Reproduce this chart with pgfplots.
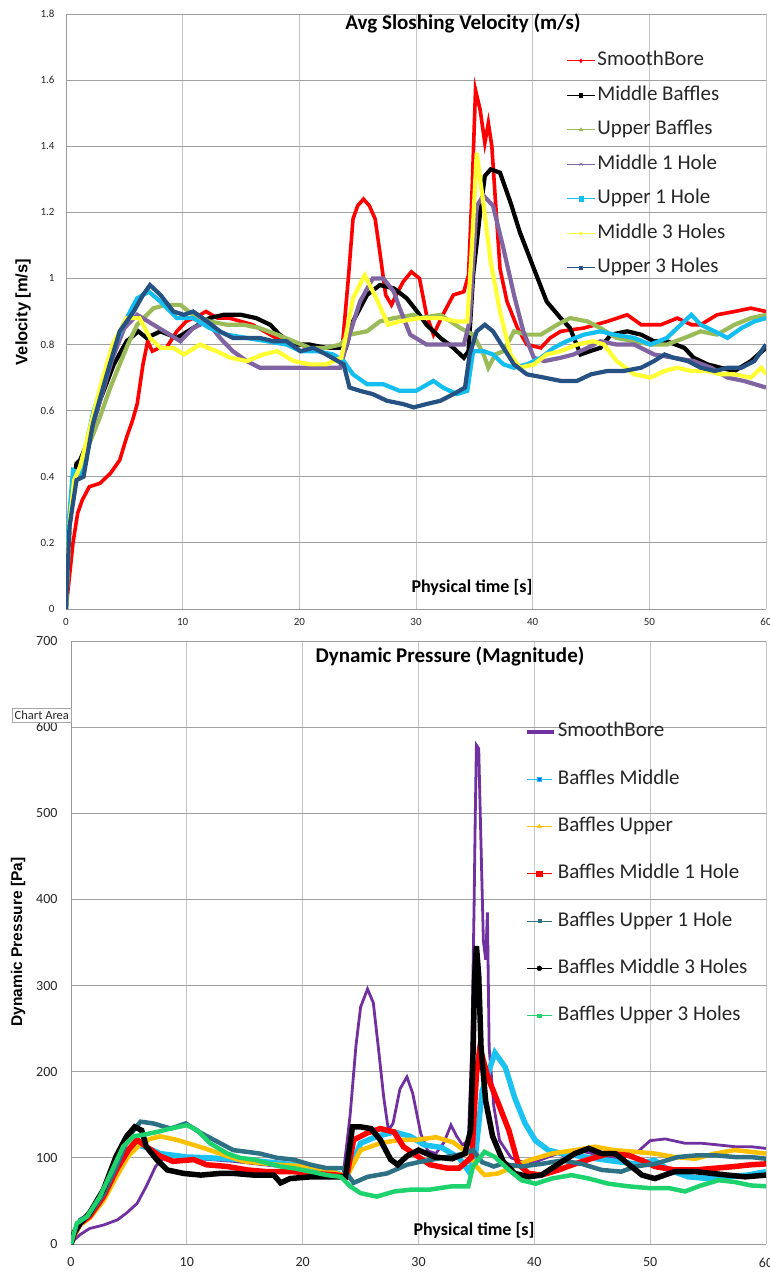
\documentclass[border=0pt]{standalone}
\usepackage{fontspec}
\setmainfont{Carlito}
\newfontfamily\lsans{Liberation Sans}
\usepackage{pgfplots}
\pgfplotsset{compat=1.18}

\definecolor{cRed}{HTML}{FF0000}
\definecolor{cGreen}{HTML}{9BBB59}
\definecolor{cPurple}{HTML}{8064A2}
\definecolor{cCyan}{HTML}{14BEF0}
\definecolor{cYellow}{HTML}{FFFF33}
\definecolor{cNavy}{HTML}{255282}
\definecolor{pPurple}{HTML}{7030A0}
\definecolor{pCyan}{HTML}{1CC3F2}
\definecolor{pOrange}{HTML}{FFC000}
\definecolor{pTeal}{HTML}{2E7084}
\definecolor{pGreen}{HTML}{1ED36E}
\definecolor{gridc}{HTML}{A0A0A0}
\definecolor{txt}{HTML}{262626}

\pgfplotsset{
  legline/.style={legend image code/.code={%
    \draw[##1, line width=0.9pt] (0pt,0pt) -- (#1,0pt);
    \draw[##1, line width=0.5pt, mark phase=1] plot coordinates {(#1/2,0pt)};}},
  thickleg/.style={legend image code/.code={%
    \draw[##1, line width=4pt] (0pt,0pt) -- (#1,0pt);}},
  chart/.style={
    scale only axis,
    axis lines=left, axis line style={-, draw=gray!80, line width=0.8pt},
    xmin=0, xmax=60, xtick={0,10,...,60},
    grid=major,
    x grid style={gray!45, line width=0.7pt},
    y grid style={gridc, line width=0.9pt},
    major tick length=0pt,
    /pgf/number format/assume math mode=true,
    tick label style={text=txt},
    legend cell align=left,
    mark phase=100000,
  },
}

\begin{document}
\begin{tikzpicture}
\useasboundingbox (0,0) rectangle (769pt,-1273pt);

% ---------------- top chart ----------------
\begin{axis}[chart,
  at={(66pt,-609pt)}, anchor=south west,
  width=700pt, height=595pt,
  ymin=0, ymax=1.8, ytick={0,0.2,...,1.8},
  yticklabel style={font=\fontsize{11}{13}\selectfont, xshift=-8pt},
  xticklabel style={font=\fontsize{11}{13}\selectfont, yshift=-6pt},
  legend style={at={(rel axis cs:0.715,0.9365)}, anchor=north west,
    draw=none, fill=none, inner sep=0pt, outer sep=0pt,
    row sep=16.5pt, column sep=2pt,
    font=\fontsize{21}{25}\selectfont, text=txt,
    nodes={inner sep=0pt, text height=14pt, text depth=4pt}},
]
\addplot[cRed, line width=3.6pt, mark=diamond*, mark size=2pt, legline=28pt] coordinates {
(0,0)(0.3,0.1)(0.6,0.2)(1.0,0.29)(1.4,0.33)(2.0,0.37)(2.9,0.38)(3.8,0.41)(4.6,0.45)(5.2,0.52)(5.7,0.57)(6.1,0.62)(6.6,0.74)(7.0,0.81)(7.4,0.78)(8.0,0.79)(8.6,0.79)(9.5,0.84)(10.3,0.87)(11.5,0.89)(12.0,0.9)(13,0.88)(14,0.88)(15,0.87)(16,0.86)(17,0.84)(18,0.82)(19,0.80)(20,0.80)(21,0.79)(22,0.79)(23,0.79)(23.7,0.80)(24.2,1.0)(24.6,1.18)(25.0,1.22)(25.5,1.24)(26.0,1.22)(26.5,1.18)(26.9,1.08)(27.4,0.95)(27.9,0.92)(28.3,0.95)(28.9,0.99)(29.6,1.02)(30.3,1.00)(30.9,0.89)(31.5,0.83)(32.3,0.89)(33.2,0.95)(34.1,0.96)(34.5,1.01)(34.8,1.26)(35.1,1.57)(35.5,1.51)(35.9,1.41)(36.2,1.47)(36.5,1.40)(36.8,1.24)(37.2,1.03)(37.8,0.93)(38.7,0.85)(39.5,0.80)(40.7,0.79)(41.5,0.82)(42.4,0.84)(44.4,0.85)(46.4,0.87)(48.1,0.89)(49.3,0.86)(51.0,0.86)(52.4,0.88)(53.6,0.86)(54.4,0.86)(55.8,0.89)(57.3,0.90)(58.7,0.91)(60,0.90)};
\addlegendentry{SmoothBore}
\addplot[black, line width=4.2pt, mark=square*, mark size=1.6pt, legline=28pt] coordinates {
(0,0)(0.3,0.25)(0.6,0.38)(0.9,0.44)(1.2,0.45)(1.8,0.5)(2.9,0.63)(4.1,0.74)(5.2,0.81)(6.2,0.84)(6.9,0.82)(8.1,0.84)(9.5,0.82)(10.9,0.85)(12.3,0.88)(13.5,0.89)(15,0.89)(16.3,0.88)(17.5,0.86)(18.3,0.83)(19.5,0.80)(20.9,0.80)(22.3,0.79)(23.6,0.79)(24.0,0.79)(24.6,0.87)(25.8,0.95)(26.9,0.98)(28.1,0.97)(29.2,0.94)(30.1,0.90)(30.9,0.86)(32.1,0.82)(33.2,0.79)(34.1,0.76)(34.5,0.78)(34.9,1.01)(35.5,1.2)(35.9,1.31)(36.4,1.33)(37.2,1.32)(38.1,1.23)(38.9,1.14)(40.1,1.03)(41.2,0.93)(42.4,0.88)(43.2,0.85)(44.1,0.77)(44.9,0.78)(45.8,0.79)(46.7,0.83)(48.1,0.84)(49.3,0.83)(50.4,0.81)(51.5,0.81)(53,0.79)(53.8,0.76)(55,0.74)(56.1,0.73)(57.3,0.72)(58.7,0.75)(60,0.79)};
\addlegendentry{Middle Baffles}
\addplot[cGreen, line width=4.2pt, mark=triangle*, mark size=2pt, legline=28pt] coordinates {
(0,0)(0.3,0.25)(0.7,0.37)(1.2,0.42)(2.0,0.5)(2.9,0.58)(3.8,0.67)(4.6,0.74)(5.3,0.8)(6.1,0.86)(7.5,0.91)(8.6,0.92)(9.8,0.92)(10.9,0.89)(12.3,0.87)(13.8,0.86)(15.2,0.86)(16.6,0.85)(18.1,0.83)(19.5,0.81)(20.9,0.79)(22.3,0.79)(23.5,0.80)(24.3,0.83)(25.8,0.84)(26.9,0.87)(28.1,0.88)(29.8,0.89)(30.3,0.88)(32.1,0.89)(33.8,0.85)(34.9,0.83)(35.8,0.77)(36.2,0.73)(36.8,0.77)(37.5,0.78)(38.4,0.84)(39.5,0.83)(40.7,0.83)(42.1,0.86)(43.2,0.88)(44.7,0.87)(45.8,0.85)(47.2,0.82)(48.7,0.81)(50.1,0.80)(51.5,0.80)(53,0.82)(54.4,0.84)(55.8,0.83)(57.3,0.86)(58.7,0.88)(60,0.89)};
\addlegendentry{Upper Baffles}
\addplot[cPurple, line width=4.2pt, mark=x, mark size=2pt, legline=28pt] coordinates {
(0,0)(0.3,0.25)(0.7,0.38)(1.2,0.43)(2.0,0.52)(3.0,0.64)(4.0,0.76)(5.0,0.85)(6.1,0.89)(7.5,0.86)(8.9,0.83)(9.8,0.81)(10.9,0.85)(12.1,0.87)(13.2,0.82)(14.3,0.78)(15.5,0.75)(16.6,0.73)(18.1,0.73)(19.5,0.73)(21.2,0.73)(22.3,0.73)(23.5,0.73)(24.3,0.83)(25.2,0.93)(26.3,1.0)(27.2,1.0)(28.1,0.96)(28.6,0.91)(29.5,0.83)(30.9,0.80)(32.6,0.80)(34.1,0.80)(34.6,0.87)(35.2,1.22)(35.8,1.25)(36.6,1.22)(37.5,1.09)(38.4,0.95)(39.2,0.84)(40.1,0.76)(41,0.75)(42.4,0.76)(43.5,0.77)(44.7,0.79)(45.8,0.81)(47.2,0.80)(48.7,0.80)(50.4,0.77)(52.1,0.76)(53.8,0.75)(55.3,0.73)(56.7,0.70)(58.1,0.69)(60,0.67)};
\addlegendentry{Middle 1 Hole}
\addplot[cCyan, line width=4.2pt, mark=square*, mark size=2.2pt, legline=28pt] coordinates {
(0,0)(0.2,0.25)(0.6,0.42)(1.2,0.41)(2.3,0.59)(3.8,0.76)(4.9,0.86)(6.1,0.94)(7.1,0.96)(8.1,0.93)(9.5,0.88)(10.9,0.88)(12.3,0.85)(13.8,0.83)(15.5,0.82)(17.2,0.81)(18.9,0.80)(20.1,0.78)(21.5,0.78)(22.9,0.77)(23.8,0.75)(24.6,0.71)(25.8,0.68)(27.2,0.68)(28.6,0.66)(30,0.66)(31.5,0.69)(32.3,0.67)(33.5,0.65)(34.4,0.66)(34.9,0.78)(35.8,0.78)(36.6,0.77)(37.5,0.74)(38.4,0.73)(39.5,0.74)(40.7,0.76)(41.8,0.79)(42.9,0.81)(44.4,0.83)(45.8,0.84)(47,0.83)(48.7,0.82)(50.1,0.80)(51.5,0.82)(52.7,0.86)(53.6,0.89)(54.4,0.86)(55.6,0.84)(56.7,0.82)(57.9,0.85)(59,0.87)(60,0.88)};
\addlegendentry{Upper 1 Hole}
\addplot[cYellow, line width=4.2pt, mark=*, mark size=1.6pt, legline=28pt] coordinates {
(0,0)(0.3,0.26)(0.7,0.39)(1.2,0.43)(2.0,0.54)(3.0,0.68)(4.0,0.8)(5.2,0.88)(6.3,0.88)(7.2,0.82)(8.1,0.79)(9.2,0.79)(10.1,0.77)(11.5,0.80)(12.9,0.78)(14.1,0.76)(15.5,0.75)(16.9,0.77)(18.1,0.78)(19.5,0.75)(20.9,0.74)(22.3,0.74)(23.6,0.76)(23.9,0.81)(24.6,0.94)(25.6,1.01)(26.6,0.94)(27.6,0.86)(28.6,0.87)(30.3,0.88)(32.1,0.88)(33.5,0.87)(34.4,0.87)(34.8,1.10)(35.2,1.38)(35.8,1.22)(36.4,1.05)(37.2,0.90)(38.1,0.77)(38.9,0.73)(40.1,0.74)(41.2,0.77)(42.4,0.78)(43.8,0.80)(45.2,0.81)(46.1,0.80)(47.2,0.75)(48.7,0.71)(50.1,0.70)(51.3,0.72)(52.4,0.73)(53.6,0.72)(55,0.72)(56.1,0.71)(57.3,0.71)(58.7,0.70)(59.6,0.73)(60,0.71)};
\addlegendentry{Middle 3 Holes}
\addplot[cNavy, line width=4.2pt, mark=square*, mark size=1.6pt, legline=28pt] coordinates {
(0,0)(0.3,0.25)(0.9,0.39)(1.5,0.40)(2.3,0.56)(3.5,0.71)(4.6,0.84)(5.8,0.90)(6.6,0.95)(7.2,0.98)(8.1,0.95)(9.2,0.90)(10.1,0.89)(10.9,0.90)(12.1,0.87)(13.2,0.84)(14.3,0.82)(15.5,0.82)(16.6,0.82)(17.8,0.81)(18.9,0.81)(20.1,0.78)(21.2,0.79)(22.3,0.77)(23.8,0.74)(24.3,0.67)(25.2,0.66)(26.3,0.65)(27.5,0.63)(28.9,0.62)(29.8,0.61)(30.9,0.62)(32.1,0.63)(33.2,0.65)(34.2,0.67)(34.6,0.77)(35.2,0.84)(35.9,0.86)(36.6,0.84)(37.5,0.79)(38.4,0.74)(39.5,0.71)(41,0.70)(42.4,0.69)(43.8,0.69)(45,0.71)(46.4,0.72)(47.8,0.72)(49.3,0.73)(50.4,0.75)(51.3,0.77)(52.1,0.76)(53.3,0.75)(54.4,0.73)(55.6,0.72)(56.7,0.73)(57.9,0.73)(59,0.75)(60,0.80)};
\addlegendentry{Upper 3 Holes}
\end{axis}

% ---------------- bottom chart ----------------
\begin{axis}[chart,
  at={(71pt,-1244pt)}, anchor=south west,
  width=695pt, height=603pt,
  ymin=0, ymax=700, ytick={0,100,...,700},
  yticklabel style={font=\fontsize{14}{16}\selectfont, xshift=-10pt},
  xticklabel style={font=\fontsize{14}{16}\selectfont, yshift=-10pt},
  legend style={at={(rel axis cs:0.653,0.8643)}, anchor=north west,
    draw=none, fill=none, inner sep=0pt, outer sep=0pt,
    row sep=29.3pt, column sep=2pt,
    font=\fontsize{21}{25}\selectfont, text=txt,
    nodes={inner sep=0pt, text height=14pt, text depth=4pt}},
]
\addplot[pPurple, line width=2.8pt, thickleg=27pt] coordinates {
(0,0)(0.3,5)(0.8,11)(1.6,18)(2.8,22)(4.0,28)(4.8,36)(5.7,47)(6.5,67)(7.3,90)(8.0,100)(9,102)(10,100)(12,98)(14,96)(16,93)(18,90)(20,86)(22,82)(23.5,80)(24.1,150)(24.6,230)(25.0,275)(25.6,296)(26.1,280)(26.6,220)(27.0,170)(27.4,132)(27.8,140)(28.4,180)(29.0,194)(29.5,175)(30.2,128)(30.8,108)(31.5,105)(32.2,118)(32.8,138)(33.3,125)(33.8,115)(34.3,120)(34.6,228)(34.8,393)(34.9,497)(35.0,579)(35.2,575)(35.3,517)(35.45,434)(35.6,352)(35.8,330)(35.95,385)(36.1,228)(36.5,160)(37,120)(38,100)(39,95)(40,95)(41,100)(42,105)(43,100)(44,108)(45,105)(46,100)(47,100)(48,102)(49,108)(50,120)(51.3,122)(53,117)(54.4,117)(55.9,115)(57.3,113)(58.7,113)(60,111)};
\addlegendentry{SmoothBore}
\addplot[pCyan, line width=5.5pt, mark=square*, mark size=2pt, mark options={fill=blue!60!cyan}, legline=25pt] coordinates {
(0,0)(0.3,12)(0.8,25)(1.6,32)(2.8,55)(4.0,88)(5.0,108)(5.8,115)(6.5,112)(7.7,105)(10,101)(12,100)(14.9,98)(17.8,94)(20.7,90)(23,82)(23.8,78)(25,117)(26.4,125)(27.9,130)(29.3,125)(30.5,115)(32,112)(33.5,100)(34.3,85)(34.9,100)(35.5,178)(36.6,222)(37.5,205)(38.3,170)(39.2,140)(40.1,120)(41.2,109)(42.4,105)(44.4,101)(46.4,97)(48.7,93)(50.4,97)(51.6,86)(53.3,78)(55,76)(56.7,78)(58.4,80)(60,84)};
\addlegendentry{Baffles Middle}
\addplot[pOrange, line width=4.5pt, mark=triangle*, mark size=2.2pt, legline=25pt] coordinates {
(0,0)(0.3,10)(0.8,22)(1.6,30)(2.8,50)(4.0,80)(5.0,103)(6.0,116)(6.8,122)(7.7,125)(9.1,121)(10.6,115)(12,109)(13.5,102)(14.9,96)(17.8,92)(20.7,90)(23,82)(23.8,78)(25,109)(26.7,117)(28.4,121)(29.9,121)(31.5,124)(33,118)(34.3,105)(35.0,90)(35.7,80)(36.9,82)(38.2,90)(39.5,97)(41.5,105)(43.5,109)(45.2,113)(46.9,109)(48.7,107)(50.4,105)(52.1,101)(53.9,99)(55.6,105)(57.3,109)(58.7,107)(60,105)};
\addlegendentry{Baffles Upper}
\addplot[cRed, line width=5.5pt, mark=square*, mark size=2.6pt, legline=25pt] coordinates {
(0,0)(0.3,12)(0.8,24)(1.6,32)(2.8,55)(4.0,88)(5.0,110)(5.7,121)(6.5,113)(7.7,102)(8.8,96)(10.6,98)(11.7,92)(13.5,90)(15.2,86)(16.9,84)(19.2,84)(21,82)(23,80)(23.8,78)(24.4,121)(25.6,129)(26.7,134)(27.9,130)(28.7,113)(29.9,102)(31,92)(32.5,88)(33.5,88)(34.6,101)(35.0,197)(35.3,228)(36,193)(36.9,163)(37.8,132)(38.6,93)(39.5,82)(40.6,80)(42.1,86)(43.5,93)(44.9,99)(46.4,105)(48.1,103)(49.3,97)(50.4,90)(52.1,86)(53.9,86)(55.6,88)(57.3,90)(58.7,92)(60,93)};
\addlegendentry{Baffles Middle 1 Hole}
\addplot[pTeal, line width=4.5pt, mark=square*, mark size=1.5pt, legline=25pt] coordinates {
(0,0)(0.3,14)(0.8,28)(1.6,34)(2.8,58)(4.0,92)(5.0,125)(6.0,142)(7.1,140)(8.6,134)(9.9,140)(11.2,129)(12.6,119)(14,109)(15.2,107)(16.3,105)(17.8,100)(19.2,98)(20.7,92)(22.1,88)(23.5,88)(24.4,71)(25.6,78)(27.3,82)(29,92)(30,95)(32,100)(34,105)(34.7,109)(35.5,95)(36.5,90)(37.2,93)(38.9,90)(40.6,93)(42.4,97)(44.1,93)(45.8,86)(47.5,84)(48.7,90)(50.4,93)(52.4,101)(54.1,103)(55.6,103)(57.3,101)(58.7,101)(60,99)};
\addlegendentry{Baffles Upper 1 Hole}
\addplot[black, line width=5.5pt, mark=*, mark size=2.4pt, legline=25pt] coordinates {
(0,0)(0.3,14)(0.8,24)(1.6,36)(2.8,63)(3.9,102)(4.8,125)(5.5,136)(6.1,132)(6.5,113)(7.4,98)(8.3,86)(9.7,82)(11.2,80)(12.9,82)(14,82)(15.8,80)(17.5,80)(18.1,71)(18.9,76)(20.7,78)(22.7,78)(23.7,78)(24.3,136)(25,136)(25.9,134)(26.7,121)(27.6,98)(28.2,92)(29,102)(30,109)(31.4,101)(32.9,99)(34,105)(34.5,132)(34.7,217)(34.85,311)(35.0,346)(35.2,311)(35.4,228)(35.8,166)(36.4,125)(37.3,96)(38.3,82)(39.5,78)(40.6,80)(42.1,93)(43.5,105)(44.7,111)(45.8,105)(47,105)(48.1,93)(49.3,80)(50.4,76)(52.1,84)(53.9,84)(55.3,82)(56.7,80)(58.2,78)(60,80)};
\addlegendentry{Baffles Middle 3 Holes}
\addplot[pGreen, line width=4.5pt, mark=square*, mark size=1.8pt, legline=25pt] coordinates {
(0,0)(0.5,24)(1.4,32)(2.5,55)(3.7,90)(4.5,113)(5.4,125)(6.3,127)(7.4,130)(8.6,134)(10,138)(10.9,132)(12,117)(13.5,105)(14.6,100)(15.8,98)(16.9,94)(18.1,90)(19.2,88)(20.7,84)(22.1,80)(23.3,78)(24.1,67)(25,59)(26.4,55)(27.9,61)(29.3,63)(30.9,63)(32.9,67)(34.3,67)(34.7,90)(35.7,107)(36.6,101)(37.8,86)(38.9,74)(40.1,70)(41.5,76)(43.2,80)(44.7,76)(46.4,70)(48.1,67)(49.8,65)(51.6,65)(53,61)(54.4,68)(55.9,74)(57.3,72)(58.7,68)(60,67)};
\addlegendentry{Baffles Upper 3 Holes}
\end{axis}

% ---------------- titles and labels ----------------
\node[font=\fontsize{21}{25}\selectfont\bfseries, text=black] at (463pt,-23pt) {Avg Sloshing Velocity (m/s)};
\node[font=\fontsize{18}{21}\selectfont\bfseries, text=black] at (472pt,-587pt) {Physical time [s]};
\node[font=\lsans\fontsize{16.5}{19}\selectfont\bfseries, rotate=90, text=black] at (23pt,-312pt) {Velocity [m/s]};
\node[font=\fontsize{21}{25}\selectfont\bfseries, text=black] at (450pt,-656pt) {Dynamic Pressure (Magnitude)};
\node[font=\fontsize{18}{21}\selectfont\bfseries, text=black] at (474pt,-1230pt) {Physical time [s]};
\node[font=\lsans\fontsize{15.5}{18}\selectfont\bfseries, rotate=90, text=black] at (18pt,-942pt) {Dynamic Pressure [Pa]};
\node[draw=gray!70, fill=white, anchor=north west, inner sep=2.5pt, font=\fontsize{12.5}{14}\selectfont, text=txt] at (12pt,-708pt) {Chart Area};
\end{tikzpicture}
\end{document}
